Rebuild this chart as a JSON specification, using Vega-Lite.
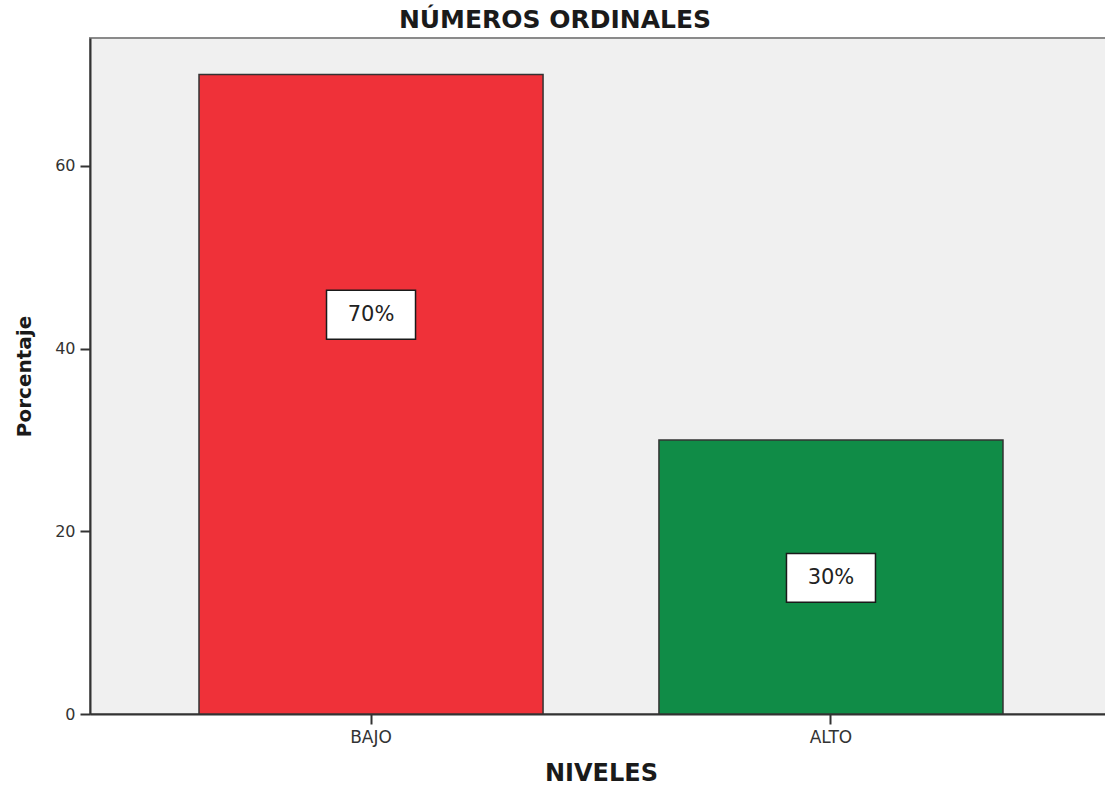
{
  "$schema": "https://vega.github.io/schema/vega-lite/v6.json",
  "width": 1022,
  "height": 676,
  "autosize": "none",
  "padding": {"left": 90, "top": 38, "right": 0, "bottom": 73},
  "background": "white",
  "title": {
    "text": "NÚMEROS ORDINALES",
    "font": "DejaVu Sans",
    "fontSize": 25,
    "fontWeight": "bold",
    "color": "#1a1a1a",
    "anchor": "middle",
    "frame": "group",
    "dx": -46,
    "offset": 5
  },
  "config": {
    "view": {"fill": "#F0F0F0", "stroke": "#8a8a8a", "strokeWidth": 2},
    "axis": {
      "labelFont": "DejaVu Sans",
      "titleFont": "DejaVu Sans",
      "labelColor": "#333333",
      "titleColor": "#1a1a1a",
      "domainColor": "#333333",
      "domainWidth": 2,
      "tickColor": "#333333",
      "tickWidth": 2,
      "grid": false
    }
  },
  "data": {
    "values": [
      {"nivel": "BAJO", "porcentaje": 70, "etiqueta": "70%", "etiqueta_y": 43.7},
      {"nivel": "ALTO", "porcentaje": 30, "etiqueta": "30%", "etiqueta_y": 14.9}
    ]
  },
  "encoding": {
    "x": {
      "field": "nivel",
      "type": "nominal",
      "sort": ["BAJO", "ALTO"],
      "scale": {"paddingInner": 0.252, "paddingOuter": 0.237},
      "axis": {
        "title": "NIVELES",
        "titleFontSize": 24,
        "titleFontWeight": "bold",
        "titlePadding": 16,
        "labelAngle": 0,
        "labelFontSize": 17,
        "labelPadding": 5,
        "tickSize": 10,
        "domain": true
      }
    }
  },
  "layer": [
    {
      "mark": {"type": "bar", "stroke": "#333333", "strokeWidth": 1.5},
      "encoding": {
        "y": {
          "field": "porcentaje",
          "type": "quantitative",
          "scale": {"domain": [0, 74], "nice": false},
          "axis": {
            "title": "Porcentaje",
            "values": [0, 20, 40, 60],
            "titleFontSize": 20,
            "titleFontWeight": "bold",
            "titlePadding": 20,
            "labelFontSize": 16,
            "labelPadding": 5,
            "tickSize": 10
          }
        },
        "color": {
          "field": "nivel",
          "type": "nominal",
          "scale": {"domain": ["BAJO", "ALTO"], "range": ["#EF3139", "#108C47"]},
          "legend": null
        }
      }
    },
    {
      "mark": {
        "type": "point",
        "shape": "M-1,-0.55L1,-0.55L1,0.55L-1,0.55Z",
        "size": 7921,
        "filled": true,
        "fill": "white",
        "stroke": "#1a1a1a",
        "strokeWidth": 1.5,
        "opacity": 1
      },
      "encoding": {
        "y": {"field": "etiqueta_y", "type": "quantitative"}
      }
    },
    {
      "mark": {
        "type": "text",
        "font": "DejaVu Sans",
        "fontSize": 21,
        "color": "#222222",
        "baseline": "middle",
        "align": "center"
      },
      "encoding": {
        "y": {"field": "etiqueta_y", "type": "quantitative"},
        "text": {"field": "etiqueta"}
      }
    }
  ]
}
